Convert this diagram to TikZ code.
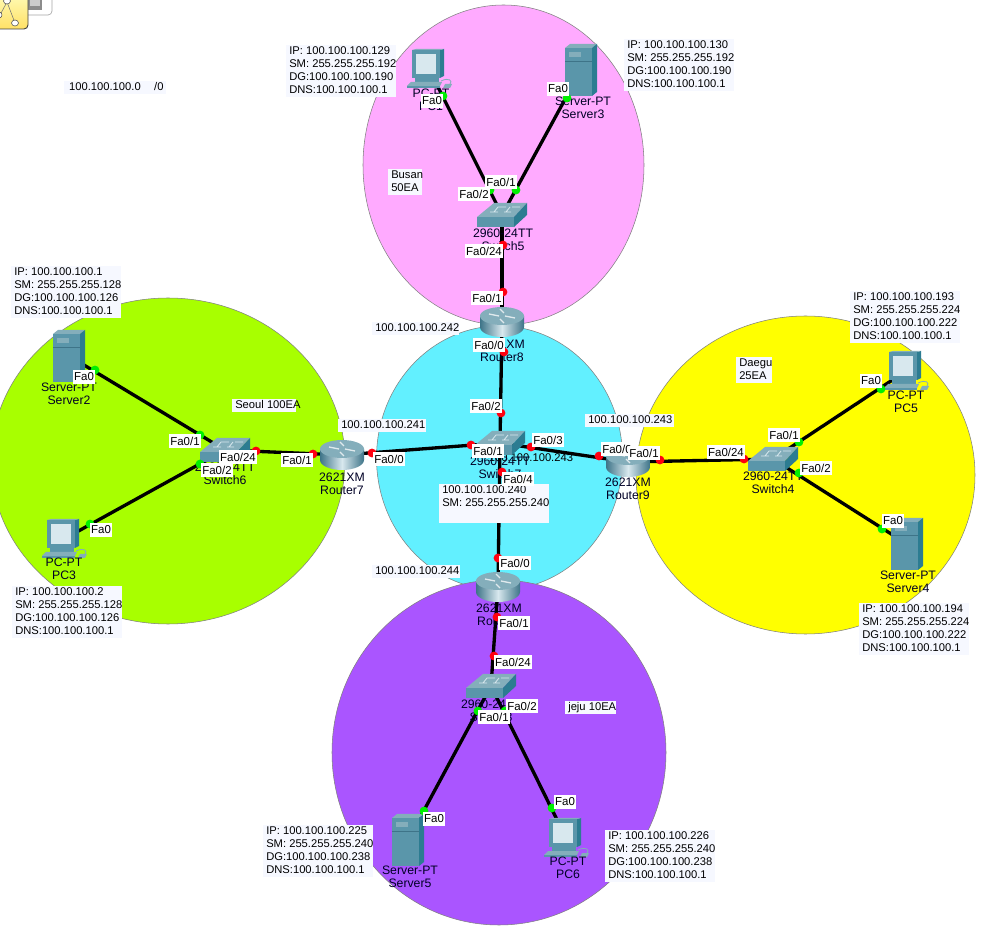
\documentclass[tikz,border=0pt]{standalone}
\usepackage{fontspec}
\setmainfont{Liberation Sans}
\definecolor{ppink}{HTML}{FFAAFF}
\definecolor{pcyan}{HTML}{62F0FF}
\definecolor{pgreen}{HTML}{A8FF00}
\definecolor{pyellow}{HTML}{FFFF00}
\definecolor{ppurple}{HTML}{AA55FF}
\definecolor{notebg}{HTML}{F6F8FF}
\definecolor{devtop}{HTML}{84AEBB}
\definecolor{devfront}{HTML}{5A96AA}
\definecolor{devside}{HTML}{2C7C91}
\definecolor{devdark}{HTML}{3E7488}
\definecolor{devlight}{HTML}{D8E8EE}
\definecolor{portgreen}{HTML}{00F000}
\definecolor{portred}{HTML}{FF0010}
\tikzset{
  x=0.75pt,y=-0.75pt,
  zone/.style={draw=black!50,line width=0.4pt},
  link/.style={draw=black,line width=2.5pt},
  portdot/.style={circle,inner sep=0pt,minimum size=6.6pt},
  portlabel/.style={fill=white,inner xsep=1.2pt,inner ysep=0pt,minimum height=9.8pt,font=\fontsize{8.6}{9.75}\selectfont},
  devlabel/.style={align=center,inner sep=0pt,text=black!85!blue,font=\fontsize{9.2}{9.75}\selectfont},
  notetext/.style={anchor=north west,align=left,inner sep=0pt,font=\fontsize{8.4}{9.75}\selectfont},
  pics/routericon/.style={code={
    \shade[left color=devdark,right color=devdark,middle color=devlight] (-22,-6) -- (-22,5) arc[start angle=180,end angle=0,x radius=22,y radius=10] -- (22,-6) -- cycle;
    \fill[devtop] (0,-6) ellipse[x radius=22,y radius=9];
    \draw[white,line width=1pt,opacity=.75] (-13,-8)--(-3,-6) (13,-4)--(3,-6) (-2,-13)--(2,-9) (2,1)--(-2,-3);
  }},
  pics/switchicon/.style={code={
    \fill[devtop] (-25,2)--(-8,-12)--(25,-12)--(12,2)--cycle;
    \fill[devfront] (-25,2) rectangle (12,12);
    \fill[devside] (12,2)--(25,-12)--(25,0)--(12,12)--cycle;
    \draw[devlight,line width=.6pt] (-12,-3)--(-4,-3) (-4,-8)--(4,-8) (2,-3)--(9,-3) (10,-8)--(18,-8) (-4,-8)--(-8,-3) (8,-8)--(4,-3);
  }},
  pics/servericon/.style={code={
    \fill[devtop] (-16,-22)--(-11,-26)--(16,-26)--(11,-22)--cycle;
    \fill[devfront] (-16,-22) rectangle (11,26);
    \fill[devside] (11,-22)--(16,-26)--(16,22)--(11,26)--cycle;
    \fill[devtop] (-12,-18) rectangle (0,-13);
    \draw[devdark,line width=.4pt] (-16,-9)--(11,-9);
  }},
  pics/pcicon/.style={code={
    \fill[devfront] (-17,-19) rectangle (11,9);
    \fill[devside] (11,-19)--(15,-20)--(15,7)--(11,9)--cycle;
    \fill[devtop] (-17,-19)--(-13,-20)--(15,-20)--(11,-19)--cycle;
    \fill[devlight] (-13,-15) rectangle (7,5);
    \fill[devfront] (-14,9) rectangle (10,13);
    \fill[devtop] (-18,13)--(13,13)--(11,17)--(-22,17)--cycle;
    \fill[devfront] (-22,17) rectangle (11,19);
    \draw[devtop,line width=.6pt] (12,12) .. controls (20,8) and (24,12) .. (21,15);
    \fill[devtop] (16,15)--(23,15)--(21,19)--(14,19)--cycle;
  }},
}
\newcommand{\zonefill}[6]{\path[zone,fill=#2] (#3,#4) ellipse[x radius=#5,y radius=#6];}
\newcommand{\notebox}[6]{%
  \fill[notebg] (#2,#3) rectangle ++(#4,#5);
  \node[notetext] (#1) at (#2+3,#3) {\strut #6};}
\newcommand{\port}[7]{%
  \node[portdot,fill=#2] (#1d) at (#3,#4) {};
  \node[portlabel] (#1l) at (#5,#6) {#7};}
\begin{document}
\begin{tikzpicture}
\useasboundingbox (0,0) rectangle (1001,930);
\clip (0,0) rectangle (1001,930);
\fill[white] (0,0) rectangle (1001,930);
% zones
\zonefill{zp}{ppink}{503.5}{165}{140.5}{160}
\zonefill{zc}{pcyan}{499.5}{458}{123}{132}
\zonefill{zg}{pgreen}{168}{461}{177}{163}
\zonefill{zy}{pyellow}{805.5}{475}{169.5}{159}
\zonefill{zv}{ppurple}{499}{752.5}{167}{172.5}
% corner icon
\fill[white,draw=black!35,line width=.5pt,rounded corners=3pt] (-10,-10) rectangle (52,15);
\fill[black!45] (28,-2) rectangle (42,10);
\fill[black!20] (30,-2) rectangle (40,6);
\shade[top color=yellow!25,bottom color=yellow!60!orange!60,draw=black!75,line width=.7pt,rounded corners=3pt] (-10,-10) rectangle (28,29);
\draw[black!55,line width=.4pt] (7,2)--(15,23) (7,2) -- (0,15);
\draw[black!70,fill=white,line width=.4pt] (7,1) ellipse[x radius=3.5,y radius=3];
\draw[black!70,fill=white,line width=.4pt] (15,23) ellipse[x radius=3.5,y radius=3];
\draw[black!70,fill=white,line width=.4pt] (-1,15) ellipse[x radius=3,y radius=3];
% hidden-behind text
\node[notetext,anchor=center] (t243b) at (531,458) {100.100.100.243};
% device anchors
\coordinate (pc1) at (429,69);
\coordinate (sv3) at (581,70);
\coordinate (sw5) at (502,215);
\coordinate (r8) at (502,322);
\coordinate (sw7) at (500,443);
\coordinate (r7) at (342,455);
\coordinate (r9) at (628,462);
\coordinate (r6) at (498,587);
\coordinate (sw6) at (225,450);
\coordinate (sw4) at (773,459);
\coordinate (sw3) at (491,686);
\coordinate (sv2) at (69,356);
\coordinate (pc3) at (64,539);
\coordinate (pc5) at (906,371);
\coordinate (sv4) at (907,544);
\coordinate (sv5) at (408,840);
\coordinate (pc6) at (566,838);
% links
\draw[link] (pc1)--(sw5);
\draw[link] (sv3)--(sw5);
\draw[link] (sw5)--(r8);
\draw[link] (r8)--(sw7);
\draw[link] (sw7)--(r7);
\draw[link] (sw7)--(r9);
\draw[link] (sw7)--(r6);
\draw[link] (r7)--(sw6);
\draw[link] (sw6)--(sv2);
\draw[link] (sw6)--(pc3);
\draw[link] (r9)--(sw4);
\draw[link] (sw4)--(pc5);
\draw[link] (sw4)--(sv4);
\draw[link] (r6)--(sw3);
\draw[link] (sw3)--(sv5);
\draw[link] (sw3)--(pc6);
% icons
\pic at (pc1) {pcicon};
\pic at (sv3) {servericon};
\pic at (sw5) {switchicon};
\pic at (r8) {routericon};
\pic at (sw7) {switchicon};
\pic at (r7) {routericon};
\pic at (r9) {routericon};
\pic at (r6) {routericon};
\pic at (sw6) {switchicon};
\pic at (sw4) {switchicon};
\pic at (sw3) {switchicon};
\pic at (sv2) {servericon};
\pic at (pc3) {pcicon};
\pic at (pc5) {pcicon};
\pic at (sv4) {servericon};
\pic at (sv5) {servericon};
\pic at (pc6) {pcicon};
% device labels
\node[devlabel] (lpc1) at (431,100) {PC-PT\\PC1};
\node[devlabel] (lsv3) at (583,108) {Server-PT\\Server3};
\node[devlabel] (lsw5) at (503,240) {2960-24TT\\Switch5};
\node[devlabel] (lr8) at (502,351) {2621XM\\Router8};
\node[devlabel] (lsw7) at (500,468) {2960-24TT\\Switch7};
\node[devlabel] (lr7) at (342,484) {2621XM\\Router7};
\node[devlabel] (lr9) at (628,489) {2621XM\\Router9};
\node[devlabel] (lr6) at (499,615) {2621XM\\Router6};
\node[devlabel] (lsw6) at (225,474) {2960-24TT\\Switch6};
\node[devlabel] (lsw4) at (773,483) {2960-24TT\\Switch4};
\node[devlabel] (lsw3) at (491,711) {2960-24TT\\Switch3};
\node[devlabel] (lsv2) at (69,394) {Server-PT\\Server2};
\node[devlabel] (lpc3) at (64,569) {PC-PT\\PC3};
\node[devlabel] (lpc5) at (906,402) {PC-PT\\PC5};
\node[devlabel] (lsv4) at (908,582) {Server-PT\\Server4};
\node[devlabel] (lsv5) at (410,877) {Server-PT\\Server5};
\node[devlabel] (lpc6) at (568,868) {PC-PT\\PC6};
% notes
\notebox{n0}{64}{81}{102}{13}{\,100.100.100.0\hspace{1.2em}/0}
\notebox{npc1}{286}{45}{110}{52}{IP: 100.100.100.129\\SM: 255.255.255.192\\DG:100.100.100.190\\DNS:100.100.100.1}
\notebox{nsv3}{624}{39}{110}{52}{IP: 100.100.100.130\\SM: 255.255.255.192\\DG:100.100.100.190\\DNS:100.100.100.1}
\notebox{nsv2}{11}{266}{110}{52}{IP: 100.100.100.1\\SM: 255.255.255.128\\DG:100.100.100.126\\DNS:100.100.100.1}
\notebox{npc3}{12}{586}{110}{52}{IP: 100.100.100.2\\SM: 255.255.255.128\\DG:100.100.100.126\\DNS:100.100.100.1}
\notebox{npc5}{850}{291}{110}{52}{IP: 100.100.100.193\\SM: 255.255.255.224\\DG:100.100.100.222\\DNS:100.100.100.1}
\notebox{nsv4}{859}{603}{110}{52}{IP: 100.100.100.194\\SM: 255.255.255.224\\DG:100.100.100.222\\DNS:100.100.100.1}
\notebox{nsv5}{263}{825}{110}{52}{IP: 100.100.100.225\\SM: 255.255.255.240\\DG:100.100.100.238\\DNS:100.100.100.1}
\notebox{npc6}{605}{830}{110}{52}{IP: 100.100.100.226\\SM: 255.255.255.240\\DG:100.100.100.238\\DNS:100.100.100.1}
\notebox{nbusan}{388}{169}{34}{26}{Busan\\50EA}
\notebox{nseoul}{232}{399}{64}{13}{Seoul 100EA}
\notebox{ndaegu}{736}{357}{36}{26}{Daegu\\25EA}
\notebox{njeju}{565}{701}{51}{13}{jeju 10EA}
\notebox{n242}{372}{322}{87}{13}{100.100.100.242}
\notebox{n241}{338}{419}{88}{13}{100.100.100.241}
\notebox{n243}{585}{414}{89}{13}{100.100.100.243}
\notebox{n240}{439}{484}{110}{39}{100.100.100.240\\SM: 255.255.255.240}
\notebox{n244}{372}{565}{88}{13}{100.100.100.244}
% ports
\port{a1}{portgreen}{443}{96}{432}{101}{Fa0}
\port{a2}{portgreen}{567}{98}{558}{89}{Fa0}
\port{a3}{portgreen}{490}{190}{474}{194}{Fa0/2}
\port{a4}{portgreen}{516}{190}{501}{182}{Fa0/1}
\port{a5}{portred}{503}{245}{484}{251}{Fa0/24}
\port{a6}{portred}{503}{292}{487}{298}{Fa0/1}
\port{a7}{portred}{504}{352}{489}{345}{Fa0/0}
\port{a8}{portred}{501}{413}{486}{406}{Fa0/2}
\port{a9}{portred}{471}{445}{488}{451}{Fa0/1}
\port{a10}{portred}{372}{453}{389}{459}{Fa0/0}
\port{a11}{portred}{531}{447}{548}{440}{Fa0/3}
\port{a12}{portred}{599}{456}{617}{449}{Fa0/0}
\port{a13}{portred}{660}{460}{644}{453}{Fa0/1}
\port{a14}{portred}{502}{472}{518}{479}{Fa0/4}
\port{a15}{portred}{498}{558}{515}{563}{Fa0/0}
\port{a16}{portred}{497}{617}{514}{623}{Fa0/1}
\port{a17}{portred}{494}{656}{513}{662}{Fa0/24}
\port{a18}{portgreen}{505}{711}{522}{706}{Fa0/2}
\port{a19}{portgreen}{478}{711}{494}{717}{Fa0/1}
\port{a20}{portgreen}{424}{811}{434}{819}{Fa0}
\port{a21}{portgreen}{552}{808}{565}{802}{Fa0}
\port{a22}{portgreen}{200}{435}{185}{441}{Fa0/1}
\port{a23}{portgreen}{200}{464}{217}{470}{Fa0/2}
\port{a24}{portred}{256}{451}{238}{457}{Fa0/24}
\port{a25}{portred}{313}{454}{297}{460}{Fa0/1}
\port{a26}{portgreen}{95}{370}{84}{377}{Fa0}
\port{a27}{portgreen}{90}{524}{101}{530}{Fa0}
\port{a28}{portred}{744}{459}{726}{452}{Fa0/24}
\port{a29}{portgreen}{799}{442}{784}{435}{Fa0/1}
\port{a30}{portgreen}{799}{473}{816}{468}{Fa0/2}
\port{a31}{portgreen}{881}{389}{871}{381}{Fa0}
\port{a32}{portgreen}{882}{529}{893}{521}{Fa0}
\end{tikzpicture}
\end{document}
